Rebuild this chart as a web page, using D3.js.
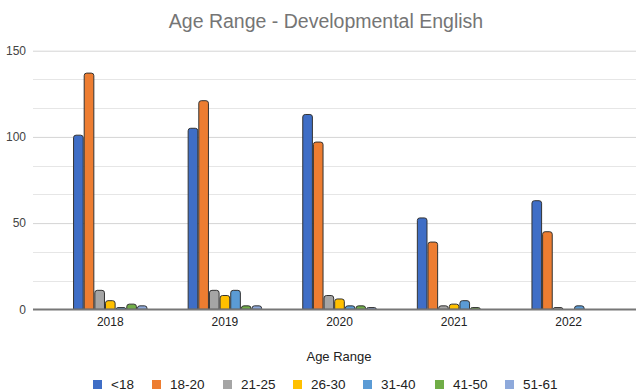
<!DOCTYPE html>
<html>
<head>
<meta charset="utf-8">
<script src="https://cdn.jsdelivr.net/npm/d3@7"></script>
<style>
  body { margin: 0; background: #fff; }
  svg { display: block; font-family: "Liberation Sans", Arial, sans-serif; }
</style>
</head>
<body>
<div id="chart"></div>
<script>
var years = ["2018", "2019", "2020", "2021", "2022"];
var ageRanges = ["<18", "18-20", "21-25", "26-30", "31-40", "41-50", "51-61"];
var colors = ["#3F6EC6", "#ED7D31", "#A5A5A5", "#FFC000", "#5B9BD5", "#70AD47", "#8EA9DB"];

// one array per age range, values for 2018..2022
var under18 = [101, 105, 113, 53, 63];
var age18to20 = [137, 121, 97, 39, 45];
var age21to25 = [11, 11, 8, 2, 1];
var age26to30 = [5, 8, 6, 3, 0];
var age31to40 = [1, 11, 2, 5, 2];
var age41to50 = [3, 2, 2, 1, 0];
var age51to61 = [2, 2, 1, 0, 0];
var series = [under18, age18to20, age21to25, age26to30, age31to40, age41to50, age51to61];

var yTicks = [0, 50, 100, 150];

var width = 640, height = 391;
var plotLeft = 33, plotRight = 636;

var svg = d3.select("#chart")
  .append("svg")
  .attr("width", width)
  .attr("height", height);

var x0 = d3.scaleBand()
  .domain(years)
  .range([53, 626])
  .paddingInner(0.35)
  .paddingOuter(0.175);

var x1 = d3.scaleBand()
  .domain(ageRanges)
  .range([0, x0.bandwidth()]);

var y = d3.scaleLinear()
  .domain([0, 150])
  .range([309.3, 50.7]);

var color = d3.scaleOrdinal().domain(ageRanges).range(colors);

// minor grid (3 per major step)
var minor = d3.range(0, 151, 50 / 3).filter(function(v) { return Math.abs(v % 50) > 1 && Math.abs(v % 50 - 50) > 1; });
svg.append("g").selectAll("line")
  .data(minor)
  .enter().append("line")
  .attr("x1", plotLeft).attr("x2", plotRight)
  .attr("y1", function(d) { return Math.round(y(d)) + 0.5; })
  .attr("y2", function(d) { return Math.round(y(d)) + 0.5; })
  .attr("stroke", "#e6e6e6")
  .attr("stroke-width", 1);

// major grid + labels
var yAxis = svg.append("g")
  .attr("transform", "translate(" + plotLeft + ",0)")
  .call(d3.axisLeft(y).tickValues(yTicks).tickSize(-(plotRight - plotLeft)).tickPadding(7));
yAxis.select(".domain").remove();
yAxis.selectAll(".tick line")
  .attr("stroke", function(d) { return d === 0 ? "#777" : "#d4d4d4"; })
  .attr("stroke-width", function(d) { return d === 0 ? 1.5 : 1; });
yAxis.selectAll(".tick text")
  .attr("fill", "#444")
  .style("font-size", "12px")
  .style("font-family", "Liberation Sans, Arial, sans-serif");

function barPath(xPos, w, v) {
  var top = y(v), base = y(0);
  var r = Math.min(2.5, (base - top));
  if (base - top < 0.5) return "";
  return "M" + xPos + "," + base +
    "V" + (top + r) +
    "Q" + xPos + "," + top + " " + (xPos + r) + "," + top +
    "H" + (xPos + w - r) +
    "Q" + (xPos + w) + "," + top + " " + (xPos + w) + "," + (top + r) +
    "V" + base + "Z";
}

var groups = svg.append("g").selectAll("g")
  .data(years)
  .enter().append("g")
  .attr("transform", function(d) { return "translate(" + x0(d) + ",0)"; });

groups.selectAll("path")
  .data(function(d, i) {
    return ageRanges.map(function(a, j) { return { key: a, value: series[j][i] }; });
  })
  .enter().append("path")
  .attr("d", function(d) { return barPath(x1(d.key) + 0.5, x1.bandwidth() - 1, d.value); })
  .attr("fill", function(d) { return color(d.key); })
  .attr("stroke", "#333")
  .attr("stroke-width", 1);

// baseline on top
svg.append("line")
  .attr("x1", plotLeft).attr("x2", plotRight)
  .attr("y1", y(0)).attr("y2", y(0))
  .attr("stroke", "#777")
  .attr("stroke-width", 1.5);

// x labels
svg.append("g").selectAll("text")
  .data(years)
  .enter().append("text")
  .attr("x", function(d) { return x0(d) + x0.bandwidth() / 2; })
  .attr("y", 326)
  .attr("text-anchor", "middle")
  .attr("fill", "#222")
  .style("font-size", "12px")
  .text(function(d) { return d; });

// title
svg.append("text")
  .attr("x", 326)
  .attr("y", 28)
  .attr("text-anchor", "middle")
  .attr("fill", "#757575")
  .style("font-size", "19.5px")
  .text("Age Range - Developmental English");

// x axis title
svg.append("text")
  .attr("x", 339)
  .attr("y", 361)
  .attr("text-anchor", "middle")
  .attr("fill", "#222")
  .style("font-size", "13px")
  .text("Age Range");

// legend
var legendX = [93, 152, 223, 293, 363, 435, 505];
var legend = svg.append("g").selectAll("g")
  .data(ageRanges)
  .enter().append("g")
  .attr("transform", function(d, i) { return "translate(" + legendX[i] + ",380)"; });
legend.append("rect")
  .attr("width", 9).attr("height", 9)
  .attr("fill", function(d) { return color(d); });
legend.append("text")
  .attr("x", 18)
  .attr("y", 9)
  .attr("fill", "#222")
  .style("font-size", "13.5px")
  .text(function(d) { return d; });
</script>
</body>
</html>
